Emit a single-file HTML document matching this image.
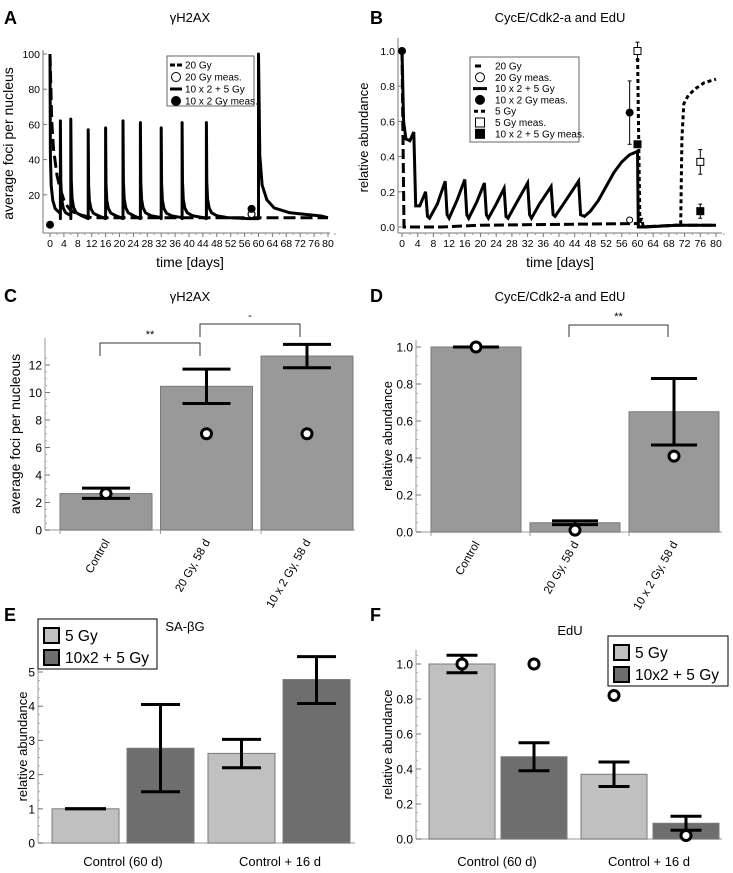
<!DOCTYPE html>
<html><head><meta charset="utf-8">
<style>
html,body{margin:0;padding:0;background:#fff;}
svg{display:block;font-family:"Liberation Sans",Arial,sans-serif;}
</style></head>
<body>
<svg id="fig" width="733" height="873" viewBox="0 0 733 873" xmlns="http://www.w3.org/2000/svg"></svg>
<script>
// ---------- DATA ----------
// Panel A
const aTicksX=[0,4,8,12,16,20,24,28,32,36,40,44,48,52,56,60,64,68,72,76,80];
const aTicksY=[20,40,60,80,100];
const aSpikeDays=[0,3,6,11,16,21,26,32,38,45,60];
const aSpikePeaks=[100,62,63,57,58,62,61,58,61,61,100];
const aSolidBase=[6.5,6.5,6.5,6.5,6.5,6.5,6.5,6.5,6.5,6.5,7];
const a20Gy=[[0,100],[0.5,62],[1,46],[2,31],[3,23],[4,17],[5,13.5],[6,11],[8,9],[10,8],[12,7],[80,7]];
const aMeasFilled=[[0,3],[58,12]];
const aMeasOpen=[[58,9]];
// Panel B
const bTicksX=aTicksX;
const bTicksY=[0,0.2,0.4,0.6,0.8,1.0];
const bSolid=[[0,1],[0.4,0.6],[1,0.5],[2,0.49],[3,0.54],[3.5,0.12],[4.5,0.12],[6,0.2],[6.5,0.06],[7,0.05],[9,0.13],[11,0.26],[11.5,0.07],[12,0.05],[14,0.15],[16,0.27],[16.5,0.07],[17,0.05],[19,0.14],[21,0.25],[21.5,0.07],[22,0.05],[24,0.13],[26,0.22],[26.5,0.06],[27,0.05],[29,0.13],[32,0.25],[32.5,0.07],[33,0.05],[35,0.13],[38,0.23],[38.5,0.07],[39,0.06],[42,0.16],[45,0.26],[45.5,0.07],[46.5,0.06],[48,0.09],[50,0.15],[52,0.23],[54,0.31],[56,0.37],[58,0.41],[60,0.43],[60.2,0.0],[62,0.0],[70,0.01],[80,0.01]];
const b20Gy=[[0,1],[0.2,0.6],[0.5,0.0],[10,0],[20,0.01],[40,0.015],[60,0.02],[60.4,0.0],[70,0.01],[80,0.01]];
const b5Gy=[[60,1.0],[60.3,0.5],[60.6,0.02],[61,0.05],[61.5,0],[70,0.01],[71,0.02],[71.3,0.5],[71.8,0.7],[73,0.75],[75,0.79],[77,0.82],[80,0.84]];
const bCircFilled=[[0,1.0,1.0,1.0],[58,0.65,0.47,0.83]];
const bCircOpen=[[58,0.04,0.03,0.05]];
const bSqOpen=[[60,1.0,0.95,1.05],[76,0.37,0.30,0.44]];
const bSqFilled=[[60,0.47,0.47,0.47],[76,0.09,0.05,0.13]];
// Panel C
const cCats=["Control","20 Gy, 58 d","10 x 2 Gy, 58 d"];
const cVals=[2.65,10.45,12.65];
const cLo=[2.3,9.2,11.8];
const cHi=[3.05,11.7,13.5];
const cMeas=[2.65,7.0,7.0];
const cTicks=[0,2,4,6,8,10,12];
// Panel D
const dCats=["Control","20 Gy, 58 d","10 x 2 Gy, 58 d"];
const dVals=[1.0,0.05,0.65];
const dLo=[1.0,0.04,0.47];
const dHi=[1.0,0.06,0.83];
const dMeas=[1.0,0.01,0.41];
const dTicks=[0,0.2,0.4,0.6,0.8,1.0];
// Panel E
const eGroups=["Control (60 d)","Control + 16 d"];
const eVals=[1.0,2.77,2.62,4.78];
const eLo=[1.0,1.5,2.2,4.08];
const eHi=[1.0,4.05,3.03,5.45];
const eTicks=[0,1,2,3,4,5];
// Panel F
const fGroups=["Control (60 d)","Control + 16 d"];
const fVals=[1.0,0.47,0.37,0.09];
const fLo=[0.95,0.39,0.30,0.05];
const fHi=[1.05,0.55,0.44,0.13];
const fMeas=[1.0,1.0,0.82,0.02];
const fTicks=[0,0.2,0.4,0.6,0.8,1.0];

// ---------- HELPERS ----------
const NS='http://www.w3.org/2000/svg';
const svg=document.getElementById('fig');
function mk(tag,attrs,parent){const e=document.createElementNS(NS,tag);for(const k in attrs)e.setAttribute(k,attrs[k]);(parent||svg).appendChild(e);return e;}
function txt(x,y,s,size,anchor,parent,extra){const e=mk('text',Object.assign({x:x,y:y,'font-size':size,'text-anchor':anchor||'start',fill:'#000'},extra||{}),parent);e.textContent=s;return e;}
function grp(name){const g=mk('g',{});return g;}
function fmt1(v){return v.toFixed(1);}

// ---------- PANEL LETTERS ----------
[['A',4,24],['B',370,24],['C',4,302],['D',370,302],['E',4,621],['F',370,621]].forEach(p=>{
  const t=txt(p[1],p[2],p[0],18,'start',svg,{'font-weight':'bold'});
  
  
});

// ---------- LINE PANELS ----------
function lineAxes(g,X,Y,ticksX,ticksY,axY,axX,x1,yTop,yfmt,ylab,ylabSize,title,titleX){
  const xl=mk('line',{x1:axX,y1:axY,x2:x1,y2:axY,stroke:'#777','stroke-width':1},g);
  
  
  const yl=mk('line',{x1:axX,y1:axY,x2:axX,y2:yTop,stroke:'#777','stroke-width':1},g);
  
  
  ticksX.forEach(t=>{
    mk('line',{x1:X(t),y1:axY,x2:X(t),y2:axY+4,stroke:'#777'},g);
    mk('line',{x1:X(t+2),y1:axY,x2:X(t+2),y2:axY+2,stroke:'#999'},g);
    const l=txt(X(t),axY+14,String(t),10.5,'middle',g);
    
    
  });
  ticksY.forEach(t=>{
    mk('line',{x1:axX,y1:Y(t),x2:axX+4,y2:Y(t),stroke:'#777'},g);
    const l=txt(axX-3,Y(t)+4,yfmt(t),10.5,'end',g);
    
    
  });
  const xt=txt(titleX,axY+34,'time [days]',14,'middle',g);
  
  
  const yt=txt(0,0,ylab,ylabSize,'middle',g,{transform:'translate('+(axX-30)+','+((axY+yTop)/2+2)+') rotate(-90)'});
  
  
  const tt=txt(titleX,22,title,13,'middle',g);
  
  
}
function pathD(pts,X,Y){return pts.map((p,i)=>(i?'L':'M')+X(p[0]).toFixed(1)+','+Y(p[1]).toFixed(1)).join('');}

// Panel A
(function(){
  const g=grp('panel-a-timecourse');
  const X=d=>50+d*3.475, Y=v=>230-v*1.76;
  lineAxes(g,X,Y,aTicksX,aTicksY,233,43,330,50,v=>String(v),'average foci per nucleus',14,'γH2AX',190);
  const dl=mk('path',{d:pathD(a20Gy,X,Y),fill:'none',stroke:'#000','stroke-width':3,'stroke-dasharray':'12,5'},g);
  
  
  const offs=[0,0.12,0.35,0.8,1.5,3,6,12];
  const fr=[1,0.38,0.2,0.11,0.06,0.03,0.01,0];
  let d='';
  aSpikeDays.forEach((sd,i)=>{
    const end=i<aSpikeDays.length-1?aSpikeDays[i+1]:80;
    const slow=sd===60?3:1;
    const pk=aSpikePeaks[i], b=aSolidBase[i];
    d+=(i?'L':'M')+X(sd).toFixed(1)+','+Y(i?b:pk).toFixed(1);
    offs.forEach((o,k)=>{const t=sd+o*slow; if(t<=end) d+='L'+X(t).toFixed(1)+','+Y(b+(pk-b)*fr[k]).toFixed(1);});
    d+='L'+X(end).toFixed(1)+','+Y(b).toFixed(1);
  });
  const sl=mk('path',{d:d,fill:'none',stroke:'#000','stroke-width':3,'stroke-linejoin':'round'},g);
  
  
  aMeasOpen.forEach(p=>{const c=mk('circle',{cx:X(p[0]),cy:Y(p[1]),r:3.5,fill:'#fff',stroke:'#000','stroke-width':1.2},g);
    });
  aMeasFilled.forEach(p=>{const c=mk('circle',{cx:X(p[0]),cy:Y(p[1]),r:4,fill:'#000'},g);
    });
  const lg=grp('legend-a');g.appendChild(lg);
  mk('rect',{x:167,y:56,width:87,height:50,fill:'#fff',stroke:'#666'},lg);
  const items=[['dash','20 Gy'],['open','20 Gy meas.'],['solid','10 x 2 + 5 Gy'],['filled','10 x 2 Gy meas.']];
  items.forEach((it,i)=>{
    const y=65+i*12;
    if(it[0]==='dash'){mk('line',{x1:170,y1:y,x2:182,y2:y,stroke:'#000','stroke-width':3,'stroke-dasharray':'5,2'},lg);}
    if(it[0]==='solid'){mk('line',{x1:170,y1:y,x2:182,y2:y,stroke:'#000','stroke-width':3},lg);}
    if(it[0]==='open'){mk('circle',{cx:176,cy:y,r:4.5,fill:'#fff',stroke:'#000'},lg);}
    if(it[0]==='filled'){mk('circle',{cx:176,cy:y,r:5,fill:'#000'},lg);}
    const t=txt(185,y+3.5,it[1],10,'start',lg);
    
    
  });
})();

// Panel B
(function(){
  const g=grp('panel-b-timecourse');
  const X=d=>402+d*3.925, Y=v=>227-v*176;
  lineAxes(g,X,Y,bTicksX,bTicksY,233,398,722,38,fmt1,'relative abundance',13,'CycE/Cdk2-a and EdU',560);
  const l1=mk('path',{d:pathD(b20Gy,X,Y),fill:'none',stroke:'#000','stroke-width':3,'stroke-dasharray':'10,4'},g);
  
  
  const l2=mk('path',{d:pathD(bSolid,X,Y),fill:'none',stroke:'#000','stroke-width':3},g);
  
  
  const l3=mk('path',{d:pathD(b5Gy,X,Y),fill:'none',stroke:'#000','stroke-width':3,'stroke-dasharray':'4,3'},g);
  
  
  function err(p){if(p[3]>p[2]){mk('line',{x1:X(p[0]),y1:Y(p[2]),x2:X(p[0]),y2:Y(p[3]),stroke:'#000'},g);
    mk('line',{x1:X(p[0])-2,y1:Y(p[2]),x2:X(p[0])+2,y2:Y(p[2]),stroke:'#000'},g);
    mk('line',{x1:X(p[0])-2,y1:Y(p[3]),x2:X(p[0])+2,y2:Y(p[3]),stroke:'#000'},g);}}
  bCircFilled.forEach(p=>{err(p);const c=mk('circle',{cx:X(p[0]),cy:Y(p[1]),r:4,fill:'#000'},g);
    });
  bCircOpen.forEach(p=>{err(p);const c=mk('circle',{cx:X(p[0]),cy:Y(p[1]),r:3,fill:'#fff',stroke:'#000'},g);
    });
  bSqOpen.forEach(p=>{err(p);const r=mk('rect',{x:X(p[0])-3.5,y:Y(p[1])-3.5,width:7,height:7,fill:'#fff',stroke:'#000'},g);
    });
  bSqFilled.forEach(p=>{err(p);const r=mk('rect',{x:X(p[0])-4,y:Y(p[1])-4,width:8,height:8,fill:'#000'},g);
    });
  const lg=grp('legend-b');g.appendChild(lg);
  mk('rect',{x:470,y:57,width:109,height:85,fill:'#fff',stroke:'#666'},lg);
  const items=[['dash','20 Gy'],['open','20 Gy meas.'],['solid','10 x 2 + 5 Gy'],['filled','10 x 2 Gy meas.'],['dot','5 Gy'],['osq','5 Gy meas.'],['fsq','10 x 2 + 5 Gy meas.']];
  items.forEach((it,i)=>{
    const y=66+i*11.3, cx=480;
    if(it[0]==='dash')mk('line',{x1:475,y1:y,x2:484,y2:y,stroke:'#000','stroke-width':3,'stroke-dasharray':'6,3'},lg);
    if(it[0]==='solid')mk('line',{x1:473,y1:y,x2:487,y2:y,stroke:'#000','stroke-width':3},lg);
    if(it[0]==='dot')mk('line',{x1:474,y1:y,x2:486,y2:y,stroke:'#000','stroke-width':3,'stroke-dasharray':'4,3'},lg);
    if(it[0]==='open')mk('circle',{cx:cx,cy:y,r:4.5,fill:'#fff',stroke:'#000'},lg);
    if(it[0]==='filled')mk('circle',{cx:cx,cy:y,r:5,fill:'#000'},lg);
    if(it[0]==='osq')mk('rect',{x:cx-4.5,y:y-4.5,width:9,height:9,fill:'#fff',stroke:'#000'},lg);
    if(it[0]==='fsq')mk('rect',{x:cx-5,y:y-5,width:10,height:10,fill:'#000'},lg);
    const t=txt(495,y+3.5,it[1],10,'start',lg);
    
    
  });
})();

// ---------- BAR PANELS ----------
function barAxes(g,axX,y0,yTop,xEnd,Y,ticks,tfmt,minorStep,ylab,ylabSize,ylabX){
  const xl=mk('line',{x1:axX,y1:y0,x2:xEnd,y2:y0,stroke:'#bbb','stroke-width':1.5},g);
  
  
  const yl=mk('line',{x1:axX,y1:y0,x2:axX,y2:yTop,stroke:'#999'},g);
  
  
  const tmax=ticks[ticks.length-1];
  for(let v=ticks[0];v<=tmax+minorStep*1.5;v+=minorStep){if(Y(v)>=yTop)mk('line',{x1:axX,y1:Y(v),x2:axX+2,y2:Y(v),stroke:'#aaa'},g);}
  ticks.forEach(t=>{
    mk('line',{x1:axX,y1:Y(t),x2:axX+5,y2:Y(t),stroke:'#777'},g);
    const l=txt(axX-3,Y(t)+4.5,tfmt(t),12,'end',g);
    
    
  });
  const yt=txt(0,0,ylab,ylabSize,'middle',g,{transform:'translate('+ylabX+','+((y0+yTop)/2)+') rotate(-90)'});
  
  
}
function drawBar(g,x,w,y0,Y,v,lo,hi,capW,fill,name){
  const r=mk('rect',{x:x,y:Y(v),width:w,height:y0-Y(v),fill:fill,stroke:'#7a7a7a','stroke-width':1},g);
  
  
  const cx=x+w/2;
  const e=grp('error-bar');g.appendChild(e);
  mk('line',{x1:cx,y1:Y(lo),x2:cx,y2:Y(hi),stroke:'#000','stroke-width':3},e);
  mk('line',{x1:cx-capW/2,y1:Y(lo),x2:cx+capW/2,y2:Y(lo),stroke:'#000','stroke-width':3},e);
  mk('line',{x1:cx-capW/2,y1:Y(hi),x2:cx+capW/2,y2:Y(hi),stroke:'#000','stroke-width':3},e);
  return cx;
}
function meas(g,cx,cy){const c=mk('circle',{cx:cx,cy:cy,r:5,fill:'#fff',stroke:'#000','stroke-width':3},g);
  }
function bracket(g,x1,x2,y,drop,label){
  const b=mk('path',{d:'M'+x1+','+(y+drop)+'V'+y+'H'+x2+'V'+(y+drop),fill:'none',stroke:'#333','stroke-width':1},g);
  
  
  const t=txt((x1+x2)/2,y-5,label,11,'middle',g);
  
  
}

// Panel C
(function(){
  const g=grp('panel-c-bars');
  const y0=530, Y=v=>y0-v*13.75;
  barAxes(g,45,y0,338,355,Y,cTicks,v=>String(v),0.5,'average foci per nucleous',14,20);
  cVals.forEach((v,i)=>{
    const x=60+i*100.5;
    const cx=drawBar(g,x,92,y0,Y,v,cLo[i],cHi[i],48,'#999','bar-c-'+i);
    meas(g,cx,Y(cMeas[i]));
    mk('line',{x1:x,y1:y0,x2:x,y2:y0+4,stroke:'#999'},g);
    const t=txt(0,0,cCats[i],11.5,'end',g,{transform:'translate('+(cx+4)+','+(y0+12)+') rotate(-60)'});
    
    
  });
  const tt=txt(190,301,'γH2AX',13,'middle',g);
  
  
  bracket(g,100,200,343,13,'**');
  bracket(g,200,300,324,13,'-');
})();

// Panel D
(function(){
  const g=grp('panel-d-bars');
  const y0=532, Y=v=>y0-v*185;
  barAxes(g,416,y0,340,722,Y,dTicks,fmt1,0.05,'relative abundance',13,392);
  dVals.forEach((v,i)=>{
    const x=431+i*99;
    const cx=drawBar(g,x,90,y0,Y,v,dLo[i],dHi[i],46,'#999','bar-d-'+i);
    meas(g,cx,Y(dMeas[i]));
    mk('line',{x1:x,y1:y0,x2:x,y2:y0+4,stroke:'#999'},g);
    const t=txt(0,0,dCats[i],11.5,'end',g,{transform:'translate('+(cx+4)+','+(y0+12)+') rotate(-60)'});
    
    
  });
  const tt=txt(560,301,'CycE/Cdk2-a and EdU',13,'middle',g);
  
  
  bracket(g,569,668,325,12,'**');
})();

function groupLegend(g,x,y,w,h){
  const lg=grp('legend');g.appendChild(lg);
  mk('rect',{x:x,y:y,width:w,height:h,fill:'#fff',stroke:'#000','stroke-width':1},lg);
  [['#c0c0c0','5 Gy'],['#6e6e6e','10x2 + 5 Gy']].forEach((it,i)=>{
    const yy=y+9+i*22;
    const s=mk('rect',{x:x+6,y:yy,width:15,height:15,fill:it[0],stroke:'#000','stroke-width':2},lg);
    
    
    const t=txt(x+27,yy+13,it[1],15.5,'start',lg);
    
    
  });
}

// Panel E
(function(){
  const g=grp('panel-e-bars');
  const y0=843, Y=v=>y0-v*34.2;
  barAxes(g,38,y0,650,355,Y,eTicks,v=>String(v),0.25,'relative abundance',13,27);
  eVals.forEach((v,i)=>{
    const gi=Math.floor(i/2), k=i%2;
    const x=52+gi*156+k*75;
    drawBar(g,x,67,y0,Y,v,eLo[i],eHi[i],k===0&&i===0?41:39,k?'#6e6e6e':'#c0c0c0','bar-e-'+i);
  });
  eGroups.forEach((s,gi)=>{
    const t=txt(123+gi*157,866,s,13,'middle',g);
    
    
  });
  const tt=txt(185,631,'SA-βG',13,'middle',g);
  
  
  groupLegend(g,38,619,119,50);
})();

// Panel F
(function(){
  const g=grp('panel-f-bars');
  const y0=839, Y=v=>y0-v*175;
  barAxes(g,416,y0,650,722,Y,fTicks,fmt1,0.05,'relative abundance',13,392);
  fVals.forEach((v,i)=>{
    const gi=Math.floor(i/2), k=i%2;
    const x=429+gi*152+k*72;
    const cx=drawBar(g,x,66,y0,Y,v,fLo[i],fHi[i],31,k?'#6e6e6e':'#c0c0c0','bar-f-'+i);
    meas(g,cx,Y(fMeas[i]));
  });
  fGroups.forEach((s,gi)=>{
    const t=txt(497+gi*152,866,s,13,'middle',g);
    
    
  });
  const tt=txt(570,635,'EdU',13,'middle',g);
  
  
  groupLegend(g,608,636,120,50);
})();
</script>
</body></html>
